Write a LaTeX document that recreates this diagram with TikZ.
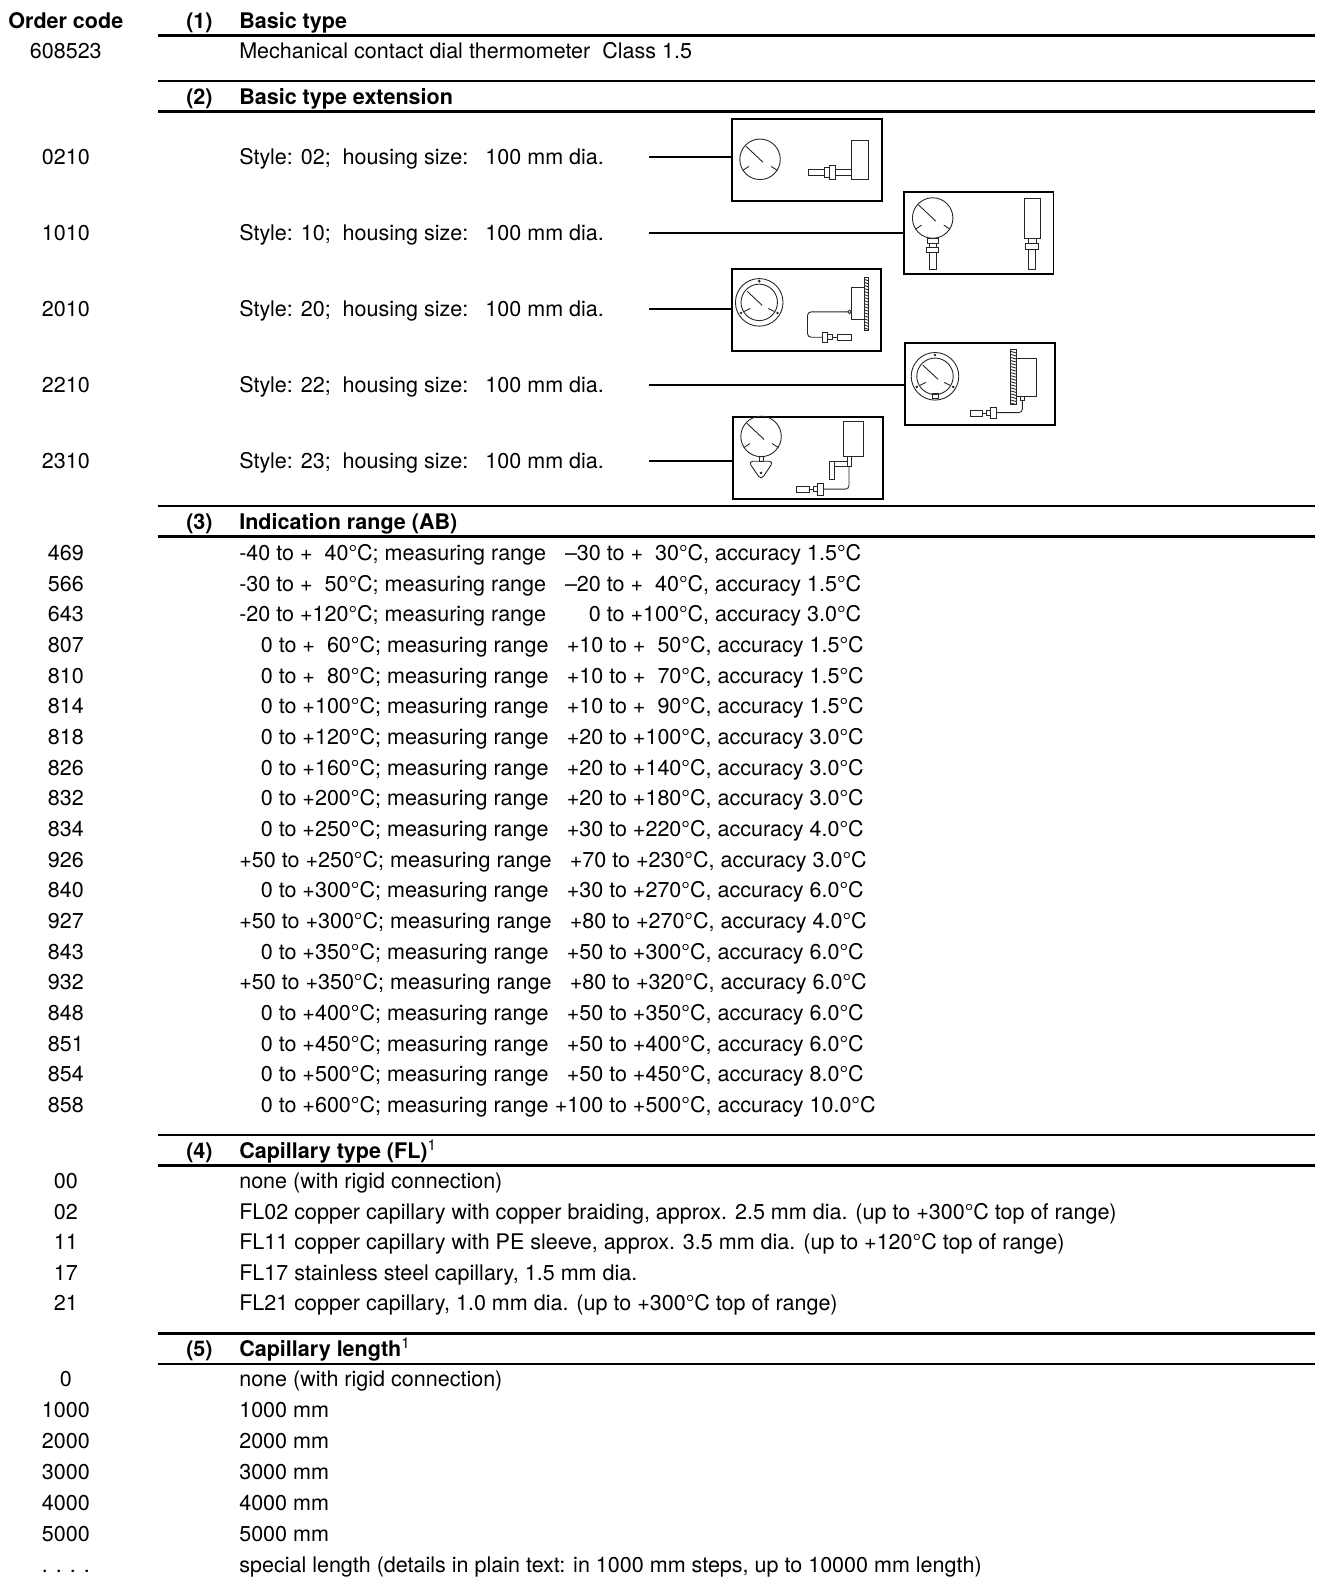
\documentclass[tikz,border=0pt]{standalone}
\usepackage{fontspec}
\setmainfont{TeX Gyre Heros}
\usetikzlibrary{positioning}

\newcommand{\sk}{\hphantom{0}}   % blank digit
\newcommand{\ind}{\hspace{1em}}  % ranges starting at 0

\begin{document}
\begin{tikzpicture}[
        x = 0.02cm, y = -0.02cm, % one unit per pixel, y downwards
        font = \fontsize{12.1}{14.5}\selectfont,
        every node/.style = {inner sep = 0pt, text height = 0.88em, text depth = 0pt},
        code/.style = {anchor = center},
        desc/.style = {anchor = west},
        head/.style = {anchor = west, font = \fontsize{12.1}{14.5}\selectfont\bfseries},
        sect/.style = {anchor = center, font = \fontsize{12.1}{14.5}\selectfont\bfseries},
        rule/.style = {line width = 1.3pt},
        lead/.style = {line width = 1pt},
        picbox/.style = {draw, line width = 1.1pt, minimum width = 2.96cm, minimum height = 1.62cm},
        icon/.style = {line width = 0.5pt, black!85},
        dial/.pic = {
            \draw (0,0) circle (0.4cm);
            \draw (-14,-13) -- (3,3);
            \draw (-17,11) -- (-11,7) (17,11) -- (11,7);
        },
        bezel/.pic = {
            \draw (0,0) circle (0.47cm) (0,0) circle (0.36cm);
            \fill (0,-21) circle (0.8pt) (-18,10.5) circle (0.8pt) (18,10.5) circle (0.8pt);
            \draw (-12,-11) -- (3,3);
            \draw (-15,9) -- (-9,6) (15,9) -- (9,6);
        }
    ]

    \useasboundingbox (0,0) rectangle (1300.7,1567.4);

    % rules
    \foreach \y in {35, 80, 110, 500, 530, 1121, 1151, 1317, 1347}
        \draw[rule] (156,\y) -- (1299,\y);

    % (1) basic type
    \node[sect] (ochead) at (65,20) {Order code};
    \node[sect] (n1) at (197,20) {(1)};
    \node[head] (h1) at (236,20) {Basic type};
    \node[code] (c1) at (65,50) {608523};
    \node[desc] (d1) at (236,50) {Mechanical contact dial thermometer\ \ Class 1.5};

    % (2) basic type extension
    \node[sect] (n2) at (197,95) {(2)};
    \node[head] (h2) at (236,95) {Basic type extension};

    \node[picbox] (pa) at (797,158) {};
    \node[picbox] (pb) at (966.5,230.5) {};
    \node[picbox] (pc) at (796.5,306.5) {};
    \node[picbox] (pd) at (967.5,379.5) {};
    \node[picbox] (pe) at (798,452.5) {};

    \foreach \c/\s/\y/\b in {0210/02/155/pa, 1010/10/230/pb, 2010/20/305/pc, 2210/22/380/pd, 2310/23/455/pe} {
        \node[code] (c\c) at (65,\y) {\c};
        \node[desc] (d\c) at (236,\y) {Style: \s;\hspace{.55em}housing size:\hspace{.8em}100 mm dia.};
        \coordinate (l\c) at (641,\y);
        \draw[lead] (l\c) -- (l\c -| \b.west);
    }

    % style 02
    \begin{scope}[shift = {(pa.north west)}, icon]
        \pic at (28.6,40.8) {dial};
        \draw (76,50.5) rectangle (119,56.5);
        \draw[fill = white] (92,48.5) rectangle (97,58.5);
        \draw[fill = white] (97,46.5) rectangle (103,60.5);
        \draw[fill = white] (119,22) rectangle (135.6,60.5);
    \end{scope}

    % style 10
    \begin{scope}[shift = {(pb.north west)}, icon]
        \pic at (29.6,26.3) {dial};
        \draw (24,46) rectangle (35,51);
        \draw (26,51) rectangle (33,55);
        \draw (23.5,55) rectangle (35.5,60);
        \draw (26,60) rectangle (33,77.5);
        \draw (120,6.6) rectangle (136,46.7);
        \draw (124,46.7) rectangle (132,51);
        \draw (121.5,51) rectangle (134.5,57);
        \draw (124.5,57) rectangle (131.5,77.5);
    \end{scope}

    % style 20
    \begin{scope}[shift = {(pc.north west)}, icon]
        \pic at (28.3,33.6) {bezel};
        \draw (119,19) rectangle (132.4,50);
        \draw (132.4,9) rectangle (136.5,61.5);
        \foreach \k in {11,14,...,59}
            \draw (132.4,\k) -- (136.5,\k+1.5);
        \draw (117.5,43) circle (0.035cm);
        \draw[rounded corners = 2pt] (116,43) -- (76,43) -- (76,68) -- (91,68);
        \draw (91,63) rectangle (96,73.5);
        \draw (96,65.5) rectangle (101,70.5);
        \draw (101,68) -- (106,68);
        \draw (106,65.5) rectangle (119.5,71);
    \end{scope}

    % style 22
    \begin{scope}[shift = {(pd.north west)}, icon]
        \pic at (30.9,33.6) {bezel};
        \draw (28,51) rectangle (34,55);
        \draw (105.6,7) rectangle (111,61.5);
        \foreach \k in {9,12,...,60}
            \draw (105.6,\k) -- (111,\k+1.5);
        \draw (111,16.4) rectangle (131,53.3);
        \draw (115,53.3) rectangle (119.5,57);
        \draw[rounded corners = 2pt] (117.2,57) -- (117.2,69.5) -- (92,69.5);
        \draw (86,64.5) rectangle (92,75);
        \draw (82,67) rectangle (86,72.5);
        \draw (78,70) -- (82,70);
        \draw (65.5,67.5) rectangle (78,73.5);
    \end{scope}

    % style 23
    \begin{scope}[shift = {(pe.north west)}, icon]
        \pic at (28.6,20) {dial};
        \draw (27,39.5) rectangle (30.5,44.5);
        \draw[rounded corners = 2.5pt] (16,44.5) -- (41,44.5) -- (28.6,63) -- cycle;
        \fill (28.6,56) circle (0.8pt);
        \draw (110.2,5) rectangle (129.6,39.5);
        \draw (113.5,39.5) rectangle (117.5,49.5);
        \draw (101,44.5) rectangle (113.5,49.5);
        \draw (96.5,44.5) rectangle (101,62.5);
        \draw[rounded corners = 2pt] (115.5,49.5) -- (115.5,72) -- (90,72);
        \draw (84,66.5) rectangle (90,78);
        \draw (80,69.5) rectangle (84,74.5);
        \draw (76,72) -- (80,72);
        \draw (64,69.5) rectangle (76,75.5);
    \end{scope}

    % (3) indication range
    \node[sect] (n3) at (197,515) {(3)};
    \node[head] (h3) at (236,515) {Indication range (AB)};
    \foreach \c/\a/\m/\acc [count = \i from 0] in {
            469/{-40 to +\sk40}/{–30 to +\sk30}/1.5,
            566/{-30 to +\sk50}/{–20 to +\sk40}/1.5,
            643/{-20 to +120}/{0 to +100}/3.0,
            807/{\ind0 to +\sk60}/{+10 to +\sk50}/1.5,
            810/{\ind0 to +\sk80}/{+10 to +\sk70}/1.5,
            814/{\ind0 to +100}/{+10 to +\sk90}/1.5,
            818/{\ind0 to +120}/{+20 to +100}/3.0,
            826/{\ind0 to +160}/{+20 to +140}/3.0,
            832/{\ind0 to +200}/{+20 to +180}/3.0,
            834/{\ind0 to +250}/{+30 to +220}/4.0,
            926/{+50 to +250}/{+70 to +230}/3.0,
            840/{\ind0 to +300}/{+30 to +270}/6.0,
            927/{+50 to +300}/{+80 to +270}/4.0,
            843/{\ind0 to +350}/{+50 to +300}/6.0,
            932/{+50 to +350}/{+80 to +320}/6.0,
            848/{\ind0 to +400}/{+50 to +350}/6.0,
            851/{\ind0 to +450}/{+50 to +400}/6.0,
            854/{\ind0 to +500}/{+50 to +450}/8.0,
            858/{\ind0 to +600}/{+100 to +500}/10.0} {
        \node[code] (r\c) at (65,546+30.28*\i) {\c};
        \node[desc] (rt\c) at (236,546+30.28*\i)
            {\a°C; measuring range\makebox[7.3em][r]{\m°C}, accuracy \acc°C};
    }

    % (4) capillary type
    \node[sect] (n4) at (197,1136) {(4)};
    \node[head] (h4) at (236,1136) {Capillary type (FL)\textsuperscript{\normalfont 1}};
    \foreach \c/\t [count = \i from 0] in {
            00/{none (with rigid connection)},
            02/{FL02 copper capillary with copper braiding, approx. 2.5 mm dia. (up to +300°C top of range)},
            11/{FL11 copper capillary with PE sleeve, approx. 3.5 mm dia. (up to +120°C top of range)},
            17/{FL17 stainless steel capillary, 1.5 mm dia.},
            21/{FL21 copper capillary, 1.0 mm dia. (up to +300°C top of range)}} {
        \node[code] (f\i) at (65,1166+30.25*\i) {\c};
        \node[desc] (ft\i) at (236,1166+30.25*\i) {\t};
    }

    % (5) capillary length
    \node[sect] (n5) at (197,1332) {(5)};
    \node[head] (h5) at (236,1332) {Capillary length\textsuperscript{\normalfont 1}};
    \foreach \c/\t [count = \i from 0] in {
            0/{none (with rigid connection)},
            1000/{1000 mm}, 2000/{2000 mm}, 3000/{3000 mm}, 4000/{4000 mm}, 5000/{5000 mm},
            {. . . .}/{special length (details in plain text: in 1000 mm steps, up to 10000 mm length)}} {
        \node[code] (k\i) at (65,1362+30.5*\i) {\c};
        \node[desc] (kt\i) at (236,1362+30.5*\i) {\t};
    }
\end{tikzpicture}
\end{document}
